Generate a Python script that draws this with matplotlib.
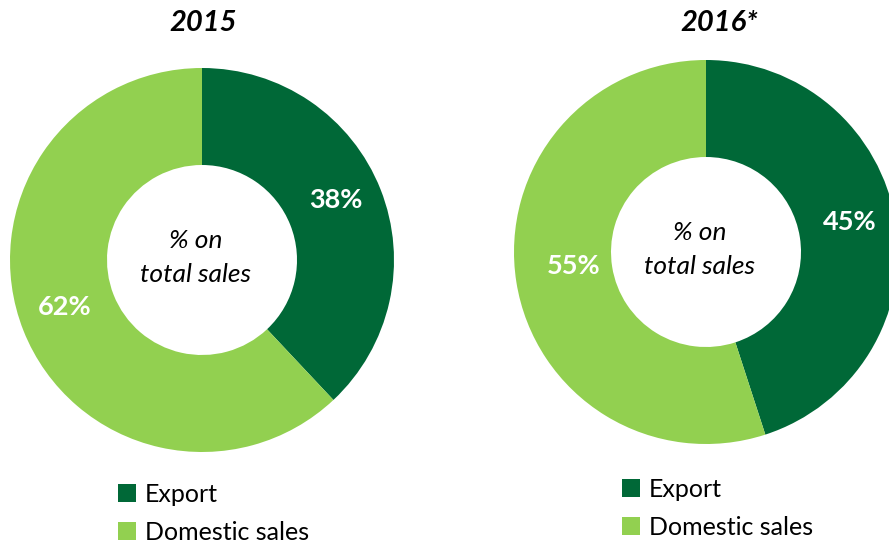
import matplotlib
matplotlib.use("Agg")
import matplotlib.pyplot as plt
import numpy as np

plt.rcParams['font.family'] = ['Lato', 'DejaVu Sans']

years = ["2015", "2016*"]
categories = ["Export", "Domestic sales"]
export_share = [38, 45]
domestic_share = [62, 55]
colors = ["#006837", "#92D050"]

W, H = 889, 545
fig = plt.figure(figsize=(W / 100, H / 100), dpi=100)
ax = fig.add_axes([0, 0, 1, 1])
ax.set_xlim(0, W)
ax.set_ylim(0, H)
ax.set_aspect('equal')
ax.axis('off')

centers = [(202, H - 260), (706, H - 252)]
R = 192
r_in = 95
label_dist = [[0.75, 0.77], [0.76, 0.70]]
label_dy = 7
title_x = [203, 719]
legend_anchor = [(118 / W, 1 - 483 / H), (622 / W, 1 - 478 / H)]

for i, yr in enumerate(years):
    vals = [export_share[i], domestic_share[i]]
    cx, cy = centers[i]
    wedges, _ = ax.pie(vals, colors=colors, startangle=90, counterclock=False,
                       radius=R, center=(cx, cy),
                       wedgeprops=dict(width=R - r_in, linewidth=0))
    start = 90.0
    for j, v in enumerate(vals):
        sweep = v / sum(vals) * 360
        mid = np.deg2rad(start - sweep / 2)
        d = R * label_dist[i][j]
        ax.text(cx + d * np.cos(mid), cy + d * np.sin(mid) + label_dy, f"{v}%",
                ha='center', va='center', color='white', fontsize=19.5,
                fontweight='bold')
        start -= sweep
    ax.text(cx - 6, cy + 19, "% on", ha='center', va='center',
            fontsize=19, style='italic', color='black')
    ax.text(cx - 6, cy - 15, "total sales", ha='center', va='center',
            fontsize=19, style='italic', color='black')
    ax.text(title_x[i], H - 23, yr, ha='center', va='center', fontsize=21,
            fontweight='bold', style='italic', color='black')
    fig.legend(wedges, categories, loc='upper left',
               bbox_to_anchor=legend_anchor[i], frameon=False,
               fontsize=18, handlelength=0.72, handleheight=0.72,
               handletextpad=0.35, labelspacing=0.6, borderpad=0,
               borderaxespad=0)

ax.set_xlim(0, W)
ax.set_ylim(0, H)
fig.savefig("out.png", dpi=100)
